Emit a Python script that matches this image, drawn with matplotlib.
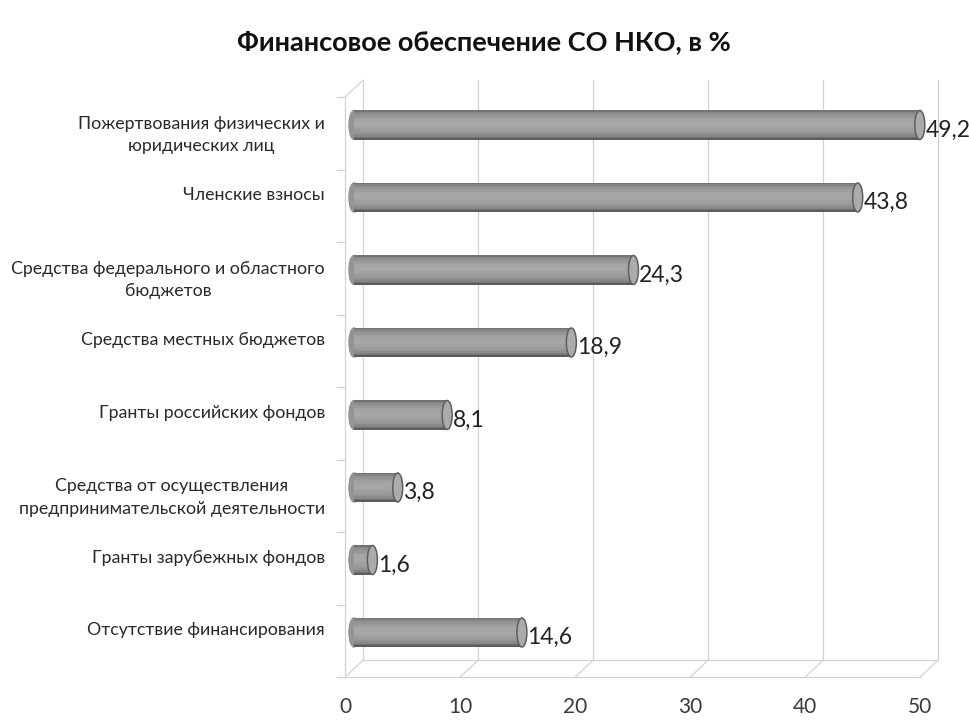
import matplotlib
matplotlib.use("Agg")
import matplotlib.pyplot as plt
from matplotlib.patches import Ellipse
import numpy as np

# данные
categories = [
    "Пожертвования физических и\nюридических лиц",
    "Членские взносы",
    "Средства федерального и областного\nбюджетов",
    "Средства местных бюджетов",
    "Гранты российских фондов",
    "Средства от осуществления\nпредпринимательской деятельности",
    "Гранты зарубежных фондов",
    "Отсутствие финансирования",
]
values = [49.2, 43.8, 24.3, 18.9, 8.1, 3.8, 1.6, 14.6]
value_labels = ["49,2", "43,8", "24,3", "18,9", "8,1", "3,8", "1,6", "14,6"]
xticks = [0, 10, 20, 30, 40, 50]
title = "Финансовое обеспечение СО НКО, в %"

plt.rcParams['font.family'] = ['Lato', 'DejaVu Sans']

W, H = 969, 723
PX = 11.5      # пикселей на 1%
X0 = 345       # 0 на переднем крае
ROW = 72.5     # шаг категорий
Y0 = 133.5     # центр первой категории (передняя плоскость)

fig = plt.figure(figsize=(W / 100, H / 100), dpi=100)
ax = fig.add_axes([0, 0, 1, 1])
ax.axis('off')
ax.set_xlim(-X0 / PX, (W - X0) / PX)
ax.set_ylim((H - Y0) / ROW, -Y0 / ROW)

DX = 18 / PX          # глубина псевдо-3D
DY = -17 / ROW
floor_y = len(categories) - 0.5
top_y = -0.5
grid_c = '#d2d2d2'
lw_g = 0.9

# задняя стенка и пол
for t in xticks:
    ax.plot([t + DX, t + DX], [floor_y + DY, top_y + DY], color=grid_c, lw=lw_g, zorder=1)
    ax.plot([t, t + DX], [floor_y, floor_y + DY], color=grid_c, lw=lw_g, zorder=1)
ax.plot([0, xticks[-1]], [floor_y, floor_y], color=grid_c, lw=lw_g, zorder=1)
ax.plot([DX, xticks[-1] + DX], [floor_y + DY, floor_y + DY], color=grid_c, lw=lw_g, zorder=1)
# левая стенка
ax.plot([0, 0], [floor_y, top_y], color=grid_c, lw=lw_g, zorder=1)
ax.plot([0, DX], [top_y, top_y + DY], color=grid_c, lw=lw_g, zorder=1)
for i in range(len(categories) + 1):
    yy = i - 0.5
    ax.plot([-8 / PX, 0], [yy, yy], color=grid_c, lw=lw_g, zorder=1)

# цилиндры
bh = 29 / ROW
cap_w = 10 / PX
n = 20
prof_pos = [0.0, 0.08, 0.3, 0.5, 0.75, 0.9, 1.0]
prof_val = [0.45, 0.55, 0.64, 0.66, 0.6, 0.52, 0.36]
shades = [str(g) for g in np.interp(np.linspace(0, 1, n), prof_pos, prof_val)]
for i, v in enumerate(values):
    yc = i + DY / 2
    x_left = DX / 2
    ax.add_patch(Ellipse((x_left, yc), cap_w, bh, color='0.58', zorder=3))
    for k in range(n):
        yk = yc - bh / 2 + (k + 0.5) * bh / n
        ax.barh(yk, v, height=bh / n * 1.08, left=x_left, color=shades[k], lw=0, zorder=4)
    ax.add_patch(Ellipse((x_left + v, yc), cap_w, bh, facecolor='#ababab',
                         edgecolor='#5e5e5e', lw=1.1, zorder=5))
    ax.text(x_left + v + cap_w / 2 + 0.05, yc + 5 / ROW, value_labels[i], fontsize=16.5,
            color='#222222', ha='left', va='center', zorder=6)

# подписи категорий
for i, c in enumerate(categories):
    yc = i + DY / 2
    off = 10 if '\n' in c else -2
    ax.text(-20 / PX, yc + off / ROW, c, fontsize=12.8, color='#2a2a2a', ha='right',
            va='center', multialignment='center', linespacing=1.5)

# подписи оси X
for t in xticks:
    ax.text(t, (707 - Y0) / ROW, str(t), fontsize=15, color='#3a3a3a',
            ha='center', va='center')

fig.text(484 / W, 1 - 42 / H, title, fontsize=19.5, fontweight='bold',
         color='#111111', ha='center', va='center')

fig.savefig('out.png', dpi=100, facecolor='white')
